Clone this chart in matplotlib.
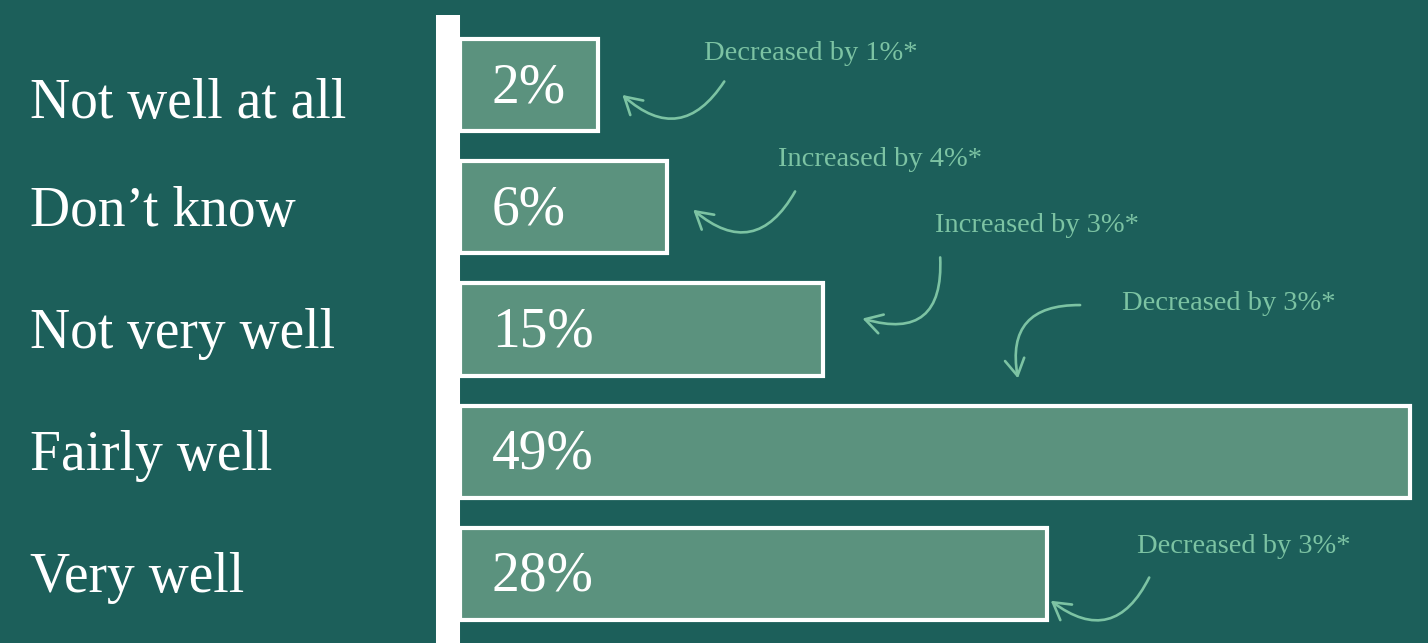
import matplotlib.pyplot as plt

# data, top to bottom
categories = ["Not well at all", "Don\u2019t know", "Not very well", "Fairly well", "Very well"]
values = [2, 6, 15, 49, 28]
changes = ["Decreased by 1%*", "Increased by 4%*", "Increased by 3%*",
           "Decreased by 3%*", "Decreased by 3%*"]

# colours
bg = "#1c5f5a"
bar_fill = "#5b927e"
note_col = "#7cc3a3"

# layout (data units of the axes)
bar_base = -6          # bars start a bit before zero, like the original design
bar_height = 0.755
label_dy = [0.27, 0.155, 0.155, 0.148, 0.148]   # baseline shift of left labels
value_dy = 0.14
# (text x, text y, tail x, tail y, head x, head y, rad) for each note
notes = [
    (14.3, -0.26, 9.3, -0.03, 3.4, 0.08, -0.58),
    (18.3, 0.61, 13.4, 0.87, 7.5, 1.02, -0.6),
    (27.4, 1.15, 21.8, 1.41, 17.3, 1.91, -0.7),
    (38.5, 1.79, 29.9, 1.80, 26.3, 2.40, 0.6),
    (39.4, 3.78, 33.9, 4.03, 28.2, 4.22, -0.6),
]

plt.rcParams['font.family'] = ['Liberation Serif', 'DejaVu Serif']

fig = plt.figure(figsize=(14.28, 6.43), dpi=100)
fig.patch.set_facecolor(bg)
ax = fig.add_axes([0, 0, 1, 1])
ax.set_facecolor(bg)
ax.set_xlim(-32.63, 50.04)
ax.set_ylim(4.566, -0.697)
ax.axis("off")

ypos = list(range(len(categories)))

# bars
ax.barh(ypos, [v - bar_base for v in values], left=bar_base, height=bar_height,
        color=bar_fill, edgecolor="white", linewidth=3, zorder=2)

# white axis line
ax.axvline(bar_base - 0.69, ymin=0, ymax=0.977, color="white", lw=17.3,
           solid_capstyle="butt", zorder=3)

# value labels inside bars
for y, v in zip(ypos, values):
    ax.text(bar_base + 1.85, y + value_dy, f"{v}%", color="white", fontsize=40,
            va="baseline", ha="left", zorder=4)

# category labels at the left
for y, c, dy in zip(ypos, categories, label_dy):
    ax.text(0.021, y + dy, c, transform=ax.get_yaxis_transform(), color="white",
            fontsize=40, va="baseline", ha="left")

# change notes with curved arrows
for txt, (tx, ty, sx, sy, hx, hy, rad) in zip(changes, notes):
    ax.text(tx, ty, txt, color=note_col, fontsize=20.5, ha="center", va="center")
    ax.annotate("", xy=(hx, hy), xytext=(sx, sy),
                arrowprops=dict(arrowstyle="->,head_length=0.6,head_width=0.35",
                                connectionstyle=f"arc3,rad={rad}",
                                color=note_col, lw=1.9, shrinkA=0, shrinkB=0,
                                mutation_scale=20))

plt.savefig("out.png", dpi=100, facecolor=bg)
